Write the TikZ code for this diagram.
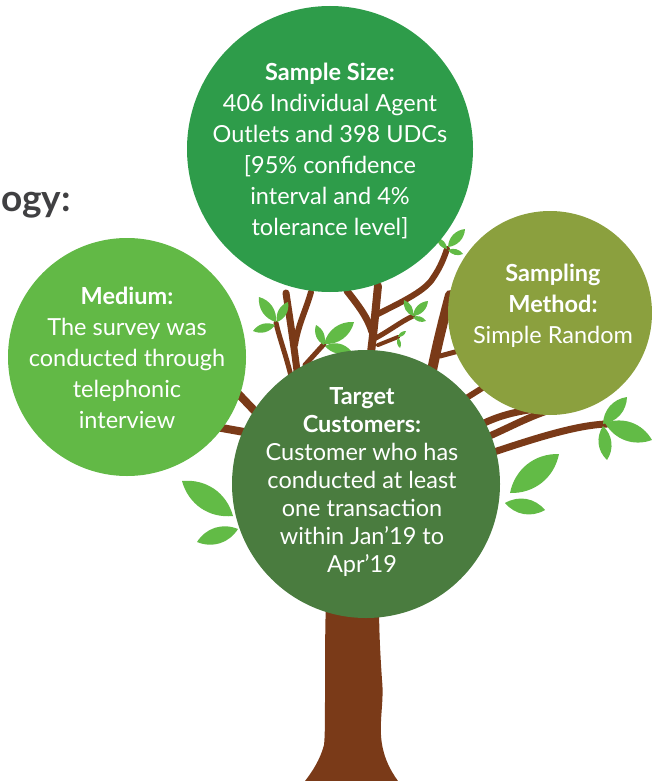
\documentclass[tikz,border=0pt]{standalone}
\usepackage{fontspec}
\setmainfont{Lato}
\definecolor{barkbrown}{RGB}{122,58,24}
\definecolor{leafgreen}{RGB}{98,187,70}
\definecolor{sizegreen}{RGB}{46,156,74}
\definecolor{mediumgreen}{RGB}{98,185,70}
\definecolor{olive}{RGB}{139,160,62}
\definecolor{targetgreen}{RGB}{74,124,63}
\definecolor{titlegray}{RGB}{64,64,66}
% a lens-shaped leaf between two tips
\newcommand\leafat[2]{\fill[leafgreen] #1 to[bend left=40] #2 to[bend left=40] #1 -- cycle;}
\begin{document}
\begin{tikzpicture}[x=1pt,y=-1pt,
  bark/.style={draw=barkbrown,line width=#1,line cap=round,line join=round},
  bark/.default=6,
  bubble/.style={circle,inner sep=0pt,minimum size=#1,draw=none},
  bubbletext/.style={text=white,align=center,font=\fontsize{23.5}{31}\selectfont}]
\useasboundingbox (0,0) rectangle (652,781);

% heading fragment
\node[anchor=base east,text=titlegray,font=\fontsize{37}{44}\selectfont\bfseries,inner sep=0pt] (title) at (71,211) {ogy:};

% trunk
\fill[barkbrown] (330,470) -- (326,600) .. controls (324,660) and (326,730) .. (324,745)
  .. controls (320,760) and (312,772) .. (305,781) -- (398,781)
  .. controls (390,770) and (382,755) .. (381,735)
  .. controls (380,715) and (384,700) .. (382,680)
  .. controls (380,650) and (379,630) .. (379,600) -- (376,470) -- cycle;

% branches towards the left bubble
\draw[bark=8] (205,425) -- (300,442);
\draw[bark=8] (228,383) -- (292,450);
% Y-shaped branch under the top bubble
\draw[bark=7] (286,293) .. controls (290,320) and (294,345) .. (300,395);
\draw[bark=6] (311,292) .. controls (306,310) and (298,325) .. (295,345);
% small leafy branches
\draw[bark=5] (276,323) .. controls (280,340) and (286,355) .. (292,380);
\draw[bark=5] (324,344) -- (305,365);
% central V
\draw[bark=7] (347,291) .. controls (358,305) and (368,318) .. (372,332);
\draw[bark=8] (378,286) .. controls (376,305) and (374,330) .. (370,360);
% long branch up to the right
\draw[bark=6] (376,315) .. controls (395,305) and (425,292) .. (433,278)
  .. controls (440,268) and (444,258) .. (447,249);
\draw[bark=5] (372,340) .. controls (388,332) and (400,322) .. (413,316);
\draw[bark=4] (378,345) -- (398,337);
% thick branch behind the right bubble
\draw[bark=10] (430,380) .. controls (436,350) and (442,325) .. (450,295);
\draw[bark=5] (440,356) -- (470,348);
% branches under the right bubble
\draw[bark=6] (460,402) -- (495,380);
\draw[bark=7] (480,425) .. controls (500,415) and (520,410) .. (548,408);
\draw[bark=7] (480,440) .. controls (505,430) and (525,418) .. (550,410);
\draw[bark=7] (485,455) .. controls (530,440) and (575,425) .. (607,424);

% leaves
\leafat{(448,247)}{(465,229)}
\leafat{(447,249)}{(437,238)}
\leafat{(448,250)}{(463,254)}
\leafat{(413,316)}{(428,301)}
\leafat{(413,316)}{(404,300)}
\leafat{(413,317)}{(426,321)}
\leafat{(398,337)}{(406,331)}
\leafat{(398,338)}{(400,348)}
\leafat{(324,344)}{(354,322)}
\leafat{(324,345)}{(316,325)}
\leafat{(325,346)}{(351,351)}
\leafat{(276,322)}{(259,297)}
\leafat{(277,322)}{(288,302)}
\leafat{(275,325)}{(253,331)}
\leafat{(603,424)}{(627,397)}
\leafat{(605,423)}{(652,440)}
\leafat{(603,426)}{(607,460)}
\leafat{(510,493)}{(559,454)}
\leafat{(505,503)}{(545,510)}
\leafat{(182,481)}{(233,516)}
\leafat{(197,542)}{(238,529)}

% bubbles
\node[bubble=286pt,fill=sizegreen] (size) at (330,149) {};
\node[bubble=238pt,fill=mediumgreen] (medium) at (127,357) {};
\node[bubble=204pt,fill=olive] (method) at (550,313) {};
\node[bubble=268pt,fill=targetgreen] (target) at (366,484) {};

% bubble texts
\node[bubbletext] (sizetext) at (330,151) {\textbf{Sample Size:}\\406 Individual Agent\\Outlets and 398 UDCs\\{[}95\% confidence\\interval and 4\%\\tolerance level{]}};
\node[bubbletext] (mediumtext) at (127,358) {\textbf{Medium:}\\The survey was\\conducted through\\telephonic\\interview};
\node[bubbletext] (methodtext) at (553,306) {\textbf{Sampling}\\\textbf{Method:}\\Simple Random};
\node[bubbletext,font=\fontsize{23.5}{28}\selectfont] (targettext) at (362,482) {\textbf{Target}\\\textbf{Customers:}\\Customer who has\\conducted at least\\one transaction\\within Jan’19 to\\Apr’19};
\end{tikzpicture}
\end{document}
